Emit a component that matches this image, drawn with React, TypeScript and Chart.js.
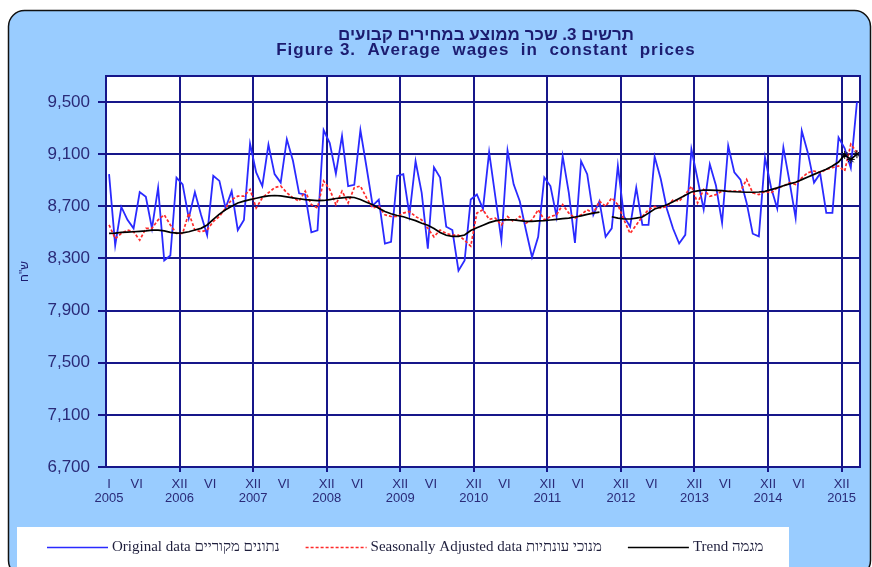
import React, { useEffect, useRef } from 'react';
import { Chart, registerables } from 'chart.js';

Chart.register(...registerables);

// ---------- data ----------
const years = ['2005', '2006', '2007', '2008', '2009', '2010', '2011', '2012', '2013', '2014', '2015'];
const monthFirst = 'I';
const monthMid = 'VI';
const monthLast = 'XII';
const yTickValues = [6700, 7100, 7500, 7900, 8300, 8700, 9100, 9500];

const titleHe = 'תרשים 3. שכר ממוצע במחירים קבועים';
const titleEn = 'Figure 3.  Average  wages  in  constant  prices';
const yAxisTitle = 'ש"ח';

const labelOriginal = 'Original data נתונים מקוריים';
const labelSeasonal = 'Seasonally Adjusted data מנוכי עונתיות';
const labelTrend = 'Trend מגמה';

// monthly, Jan 2005 .. Mar 2015
const original = [
  8947, 8400, 8695, 8596, 8531, 8809, 8773, 8531, 8843, 8284, 8323, 8921,
  8869, 8609, 8809, 8635, 8479, 8934, 8895, 8687, 8817, 8518, 8596, 9181,
  8960, 8856, 9173, 8947, 8882, 9215, 9050, 8800, 8790, 8500, 8515, 9285,
  9185, 8950, 9240, 8855, 8865, 9285, 9000, 8705, 8752, 8414, 8427, 8934,
  8947, 8635, 9046, 8804, 8375, 8999, 8921, 8544, 8518, 8206, 8284, 8752,
  8791, 8680, 9116, 8778, 8440, 9129, 8869, 8739, 8518, 8310, 8466, 8921,
  8856, 8622, 9085, 8804, 8420, 9046, 8947, 8635, 8739, 8466, 8531, 9012,
  8622, 8544, 8843, 8557, 8557, 9080, 8910, 8680, 8530, 8415, 8481, 9138,
  8910, 8677, 9023, 8860, 8573, 9165, 8960, 8905, 8728, 8490, 8470, 9074,
  8843, 8683, 9152, 8890, 8612, 9280, 9110, 8882, 8952, 8650, 8650, 9228,
  9145, 8995, 9500,
];

const seasonal = [
  8557, 8453, 8492, 8518, 8505, 8440, 8531, 8531, 8596, 8635, 8557, 8492,
  8492, 8648, 8518, 8505, 8518, 8583, 8622, 8687, 8752, 8778, 8778, 8830,
  8687, 8765, 8804, 8843, 8856, 8804, 8765, 8740, 8817, 8713, 8687, 8895,
  8830, 8713, 8817, 8726, 8843, 8856, 8765, 8687, 8700, 8635, 8622, 8622,
  8648, 8661, 8622, 8596, 8531, 8466, 8518, 8492, 8479, 8479, 8440, 8395,
  8648, 8674, 8600, 8610, 8557, 8622, 8583, 8622, 8570, 8596, 8674, 8596,
  8622, 8635, 8713, 8648, 8609, 8635, 8674, 8648, 8739, 8700, 8765, 8713,
  8596, 8492, 8557, 8622, 8674, 8700, 8687, 8700, 8750, 8740, 8790, 8855,
  8726, 8829, 8777, 8790, 8816, 8816, 8816, 8816, 8906, 8803, 8790, 8816,
  8803, 8842, 8855, 8881, 8868, 8919, 8958, 8971, 8958, 8984, 8997, 9010,
  8971, 9177, 9113,
];

const trend = [
  8492, 8495, 8500, 8502, 8505, 8508, 8512, 8518, 8518, 8512, 8500, 8495,
  8497, 8505, 8518, 8531, 8557, 8600, 8640, 8674, 8700, 8726, 8740, 8752,
  8762, 8773, 8780, 8783, 8780, 8773, 8765, 8758, 8752, 8748, 8744, 8745,
  8752, 8760, 8765, 8770, 8768, 8752, 8732, 8713, 8685, 8660, 8643, 8630,
  8620, 8605, 8590, 8570, 8555, 8530, 8500, 8478, 8470, 8470, 8480, 8515,
  8535, 8555, 8575, 8588, 8596, 8596, 8596, 8590, 8585, 8585, 8588, 8590,
  8595, 8600, 8605, 8610, 8618, 8627, 8638, 8648, 8655, null, 8620, 8610,
  8603, 8603, 8610, 8618, 8648, 8680, 8695, 8712, 8735, 8760, 8785, 8810,
  8818, 8824, 8824, 8822, 8820, 8815, 8812, 8810, 8808, 8808, 8810, 8815,
  8828, 8842, 8858, 8872, 8885, 8905, 8925, 8945, 8965, 8985, 9010, 9040,
  9095, 9060, 9100,
];

// ---------- styles ----------
const NAVY = '#16168a';
const TEXT = '#2a2a78';
const BG = '#99ccff';
const SANS = '"Liberation Sans", Arial, "DejaVu Sans", sans-serif';
const SERIF = '"Liberation Serif", "Times New Roman", "DejaVu Serif", serif';

const monthsCount = original.length;
const toPoints = (arr: (number | null)[]) => arr.map((v, i) => ({ x: i + 0.5, y: v }));

function buildXTicks() {
  const ticks: { value: number; label: string | string[] }[] = [
    { value: 0.5, label: [monthFirst, years[0]] },
  ];
  for (let k = 0; k < years.length - 1; k++) {
    ticks.push({ value: 12 * k + 5, label: monthMid });
    ticks.push({ value: 12 * (k + 1), label: [monthLast, years[k + 1]] });
  }
  return ticks;
}
const xTicks = buildXTicks();
const xLabelMap = new Map<number, string | string[]>(xTicks.map((t) => [t.value, t.label]));

const framePlugin = {
  id: 'frame',
  beforeDraw(chart: any) {
    const ctx = chart.ctx as CanvasRenderingContext2D;
    const a = chart.chartArea;
    ctx.save();
    ctx.fillStyle = '#ffffff';
    ctx.fillRect(0, 0, chart.width, chart.height);
    ctx.beginPath();
    (ctx as any).roundRect(8.5, 10.5, 862, 566, 16);
    ctx.fillStyle = BG;
    ctx.fill();
    ctx.lineWidth = 1.5;
    ctx.strokeStyle = '#111111';
    ctx.stroke();
    ctx.fillStyle = '#ffffff';
    ctx.fillRect(a.left, a.top, a.right - a.left, a.bottom - a.top);
    // legend box
    ctx.fillRect(17, 527, 772, 60);
    ctx.restore();
  },
  afterDraw(chart: any) {
    const ctx = chart.ctx as CanvasRenderingContext2D;
    const a = chart.chartArea;
    ctx.save();
    // plot border
    ctx.strokeStyle = NAVY;
    ctx.lineWidth = 2;
    ctx.strokeRect(Math.round(a.left), Math.round(a.top), Math.round(a.right - a.left), Math.round(a.bottom - a.top));

    // titles
    const cx = (a.left + a.right) / 2 + 3;
    ctx.fillStyle = '#1c1c70';
    ctx.textAlign = 'center';
    ctx.textBaseline = 'alphabetic';
    ctx.font = `bold 17px ${SANS}`;
    (ctx as any).direction = 'rtl';
    ctx.fillText(titleHe, cx, 40);
    (ctx as any).direction = 'ltr';
    ctx.font = `bold 17px ${SANS}`;
    (ctx as any).letterSpacing = '1px';
    ctx.fillText(titleEn, cx, 55);
    (ctx as any).letterSpacing = '0px';

    // legend
    const ly = 547;
    let x = 47;
    ctx.font = `15px ${SERIF}`;
    ctx.textAlign = 'left';
    ctx.textBaseline = 'middle';
    chart.data.datasets.forEach((ds: any) => {
      ctx.beginPath();
      ctx.strokeStyle = ds.borderColor;
      ctx.lineWidth = 1.6;
      ctx.setLineDash(ds.borderDash || []);
      ctx.moveTo(x, ly + 0.5);
      ctx.lineTo(x + 61, ly + 0.5);
      ctx.stroke();
      ctx.setLineDash([]);
      ctx.fillStyle = '#1e1e3c';
      ctx.fillText(ds.label, x + 65, ly);
      x += 65 + ctx.measureText(ds.label).width + 26;
    });
    ctx.restore();
  },
};

export default function App() {
  const ref = useRef<HTMLCanvasElement>(null);
  useEffect(() => {
    const canvas = ref.current!;
    const chart = new Chart(canvas, {
      type: 'line',
      data: {
        datasets: [
          {
            label: labelOriginal,
            data: toPoints(original),
            borderColor: '#2a2aff',
            borderWidth: 1.8,
            pointRadius: 0,
            order: 2,
          },
          {
            label: labelSeasonal,
            data: toPoints(seasonal),
            borderColor: '#ff2a2a',
            borderDash: [3, 2],
            borderWidth: 1.7,
            pointRadius: 0,
            order: 1,
          },
          {
            label: labelTrend,
            data: toPoints(trend),
            borderColor: '#000000',
            borderWidth: 1.7,
            pointRadius: (c: any) => (c.dataIndex >= monthsCount - 3 ? 4 : 0),
            pointStyle: 'star',
            pointBorderColor: '#000000',
            pointBorderWidth: 1,
            spanGaps: false,
            order: 0,
          },
        ] as any,
      },
      options: {
        responsive: false,
        animation: false,
        devicePixelRatio: 1,
        events: [],
        layout: { padding: { left: 10, right: 12, top: 76, bottom: 0 } },
        plugins: {
          legend: { display: false },
          title: { display: false },
          tooltip: { enabled: false },
        },
        scales: {
          x: {
            type: 'linear',
            min: 0,
            max: monthsCount,
            afterBuildTicks: (s: any) => {
              s.ticks = xTicks.map((t) => ({ value: t.value }));
            },
            afterFit: (s: any) => {
              s.height = 100;
            },
            grid: {
              color: (c: any) => (c.tick && c.tick.value % 12 === 0 ? NAVY : 'rgba(0,0,0,0)'),
              lineWidth: 2,
              tickLength: 5,
            },
            border: { display: true, color: NAVY, width: 2 },
            ticks: {
              autoSkip: false,
              maxRotation: 0,
              minRotation: 0,
              padding: 5,
              color: TEXT,
              font: { family: SANS, size: 13, lineHeight: 1.1 },
              callback: (v: any) => xLabelMap.get(Number(v)) ?? '',
            },
          },
          y: {
            type: 'linear',
            min: 6700,
            max: 9700,
            afterBuildTicks: (s: any) => {
              s.ticks = yTickValues.map((v) => ({ value: v }));
            },
            afterFit: (s: any) => {
              s.width = 96;
            },
            grid: { color: NAVY, lineWidth: 2, tickLength: 8 },
            border: { display: true, color: NAVY, width: 2 },
            ticks: {
              padding: 8,
              color: TEXT,
              font: { family: SANS, size: 17 },
              callback: (v: any) => Number(v).toLocaleString('en-US'),
            },
            title: {
              display: true,
              text: yAxisTitle,
              color: '#1c1c70',
              font: { family: SANS, size: 12 },
              padding: { top: 7, bottom: 0 },
            },
          },
        },
      },
      plugins: [framePlugin],
    });
    return () => chart.destroy();
  }, []);
  return (
    <div style={{ position: 'fixed', left: 0, top: 0, width: 872, height: 567 }}>
      <canvas ref={ref} width={872} height={567} style={{ display: 'block' }} />
    </div>
  );
}
